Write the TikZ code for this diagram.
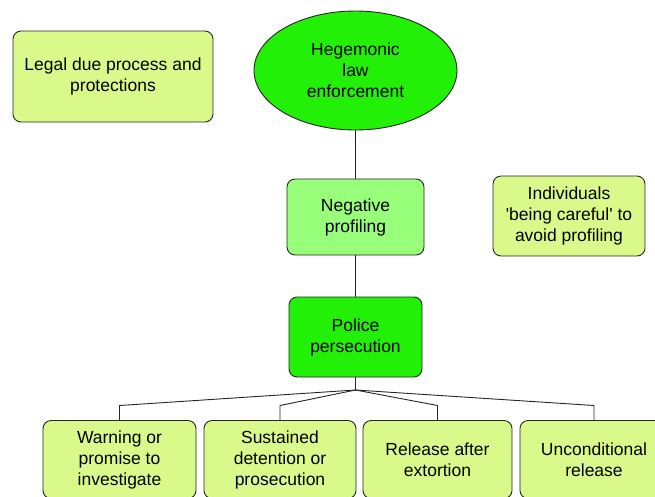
\documentclass[tikz,border=0pt]{standalone}
\usepackage{fontspec}
\setmainfont{Liberation Sans}
\usetikzlibrary{positioning,shapes.geometric}
\definecolor{paleleaf}{RGB}{217,250,139}
\definecolor{brightleaf}{RGB}{34,240,6}
\definecolor{softleaf}{RGB}{152,255,122}

\begin{document}
\begin{tikzpicture}[x=1pt, y=1pt, node distance=8pt,
  font=\fontsize{17.5}{21}\selectfont]
\tikzstyle{box}=[draw=black!85, line width=0.9pt, rounded corners=8pt,
  align=center, inner sep=0pt, outer sep=0pt]
\tikzstyle{pale}=[box, fill=paleleaf]
\tikzstyle{leaf}=[box, fill=brightleaf]
\tikzstyle{soft}=[box, fill=softleaf]
\tikzstyle{leg}=[draw=black!85, line width=0.9pt]
\clip (0,0) rectangle (655,-496);
\useasboundingbox (0,0) rectangle (655,-496);
\node[ellipse, draw=black!85, line width=0.9pt, fill=brightleaf, align=center,
  inner sep=0pt, minimum width=203pt, minimum height=119pt] (hle)
  at (355.5,-70.5) {Hegemonic\\law\\enforcement};
\node[soft, minimum width=137pt, minimum height=76pt] (neg)
  at (355.5,-217) {Negative\\profiling};
\node[leaf, minimum width=133pt, minimum height=80pt, below=42pt of neg] (pol)
  {Police\\persecution};
\node[pale, minimum width=200pt, minimum height=91pt] (legal)
  at (113,-76.5) {Legal due process and\\protections};
\node[pale, minimum width=152pt, minimum height=80pt] (ind)
  at (569,-216) {Individuals\\\textquotesingle being careful\textquotesingle{} to\\avoid profiling};
\node[pale, minimum width=153pt, minimum height=78pt] (warn)
  at (119.5,-459.5) {Warning or\\promise to\\investigate};
\node[pale, minimum width=152pt, minimum height=78pt, right=8pt of warn] (sust)
  {Sustained\\detention or\\prosecution};
\node[pale, minimum width=149pt, minimum height=78pt, right=7pt of sust] (rel)
  {Release after\\extortion};
\node[pale, minimum width=148pt, minimum height=78pt, right=8pt of rel] (free)
  {Unconditional\\release};
\coordinate[below=13pt of pol] (fork);
\draw[leg] (hle) -- (neg);
\draw[leg] (neg) -- (pol);
\draw[leg] (pol) -- (fork);
\foreach \k in {warn,sust,rel,free}
  \draw[leg] (fork) -- ([yshift=15pt]\k.north) -- (\k.north);
\end{tikzpicture}
\end{document}
